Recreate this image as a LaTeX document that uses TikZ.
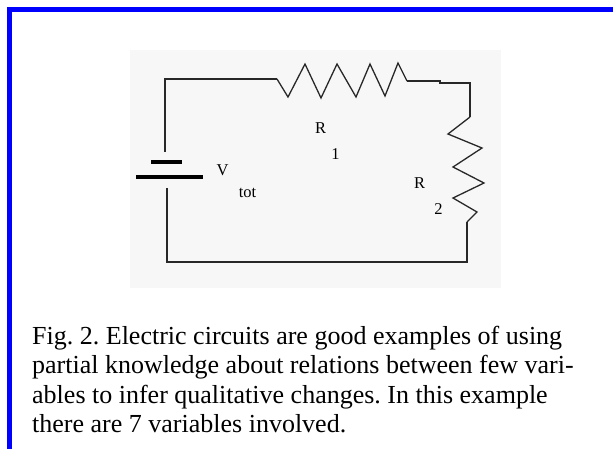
\documentclass[tikz,border=0pt]{standalone}
\usepackage{fontspec}
\setmainfont{Liberation Serif}
\frenchspacing
\definecolor{framebl}{RGB}{0,0,255}
\definecolor{panel}{RGB}{247,247,247}
\definecolor{wirec}{RGB}{40,40,40}
\tikzset{
  wire/.style={draw=wirec, line width=1.3pt, line join=miter},
  plate/.style={draw=black, line width=3.2pt},
  lbl/.style={inner sep=0pt, anchor=base, font=\fontsize{16.5}{19}\selectfont},
  capline/.style={inner sep=0pt, anchor=base west, font=\fontsize{26}{29}\selectfont}
}
\begin{document}
\begin{tikzpicture}[x=1pt,y=-1pt]
\useasboundingbox (0,0) rectangle (613,448);
\clip (0,0) rectangle (613,448);
\fill[white] (0,0) rectangle (613,448);
% frame
\fill[framebl] (7,7) rectangle (620,12);
\fill[framebl] (7,7) rectangle (12,460);
% panel
\fill[panel] (130,50) rectangle (501,288);
% coordinates
\coordinate (tl) at (165,79);
\coordinate (bt) at (165,152);
\coordinate (r1a) at (277,79);
\coordinate (r1b) at (407,81);
\coordinate (tr) at (470,83);
\coordinate (r2a) at (470,117);
\coordinate (r2b) at (467,222);
\coordinate (br) at (467,262);
\coordinate (bl) at (167,262);
\coordinate (bb) at (167,188);
% wires
\draw[wire] (bt) -- (tl) -- (r1a);
\draw[wire] (r1a) -- (288,97) -- (305,64) -- (321,98) -- (337,64) -- (356,97) -- (370,64) -- (385,96) -- (398,63) -- (r1b);
\draw[wire] (r1b) -- (440,81) -- (440,83) -- (tr) -- (r2a);
\draw[wire] (r2a) -- (448,134) -- (482,148) -- (453,167) -- (484,183) -- (453,198) -- (477,212) -- (r2b);
\draw[wire] (r2b) -- (br) -- (bl) -- (bb);
% battery
\coordinate (sp1) at (151,162);
\coordinate (sp2) at (182,162);
\coordinate (lp1) at (136,177);
\coordinate (lp2) at (203,177);
\draw[plate] (sp1) -- (sp2);
\draw[plate] (lp1) -- (lp2);
% labels
\node[lbl] (v) at (222.5,175) {V};
\node[lbl] (tot) at (247.5,197) {tot};
\node[lbl] (R1) at (320.5,133) {R};
\node[lbl] (one) at (335.5,159) {1};
\node[lbl] (R2) at (419.5,188) {R};
\node[lbl] (two) at (438.5,214) {2};
% caption
\node[capline] (c1) at (32,344) {Fig. 2. Electric circuits are good examples of using};
\node[capline] (c2) at (32,373) {partial knowledge about relations between few vari-};
\node[capline] (c3) at (32,403) {ables to infer qualitative changes. In this example};
\node[capline] (c4) at (32,432) {there are 7 variables involved.};
\end{tikzpicture}
\end{document}
